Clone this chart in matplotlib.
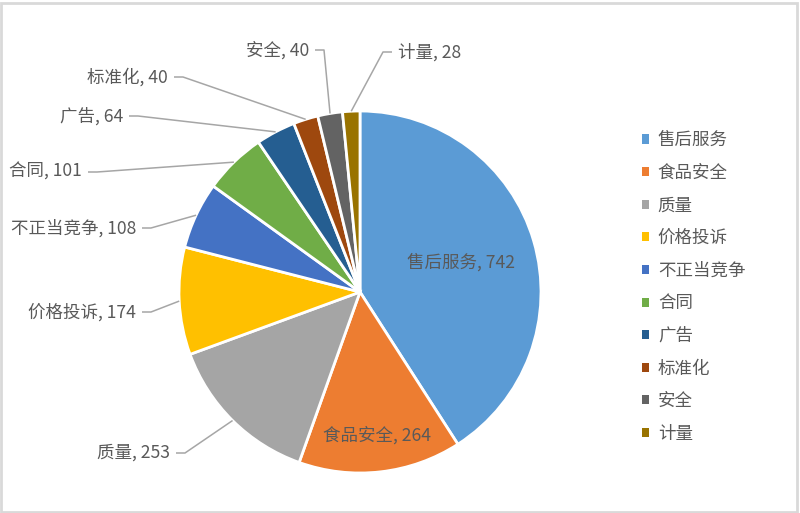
import matplotlib
matplotlib.use('Agg')
import matplotlib.pyplot as plt
import numpy as np
from matplotlib.patches import Rectangle

plt.rcParams['font.family'] = ['Noto Sans CJK SC', 'DejaVu Sans']

# ---------- 数据 ----------
categories = ['售后服务', '食品安全', '质量', '价格投诉', '不正当竞争',
              '合同', '广告', '标准化', '安全', '计量']
counts = [742, 264, 253, 174, 108, 101, 64, 40, 40, 28]
colors = ['#5B9BD5', '#ED7D31', '#A5A5A5', '#FFC000', '#4472C4',
          '#70AD47', '#255E91', '#9E480E', '#636363', '#997300']

# ---------- 布局（像素，y向下） ----------
W, H = 800, 513
CX, CY, R = 360, 292, 181
TEXT_COLOR = '#595959'
LINE_COLOR = '#A6A6A6'
FS = 12.6

# 外部标签位置
label_pos = {
    '质量': (170, 453, 'right'),
    '价格投诉': (136, 312, 'right'),
    '不正当竞争': (136, 228, 'right'),
    '合同': (82, 172, 'right'),
    '广告': (123, 116, 'right'),
    '标准化': (168, 77, 'right'),
    '安全': (309, 50, 'right'),
    '计量': (398, 52, 'left'),
}
# 内部标签距圆心的比例
inner_dist = {'售后服务': 0.58, '食品安全': 0.8}

fig = plt.figure(figsize=(W / 100, H / 100), dpi=100)

ax = fig.add_axes([(CX - R) / W, (H - CY - R) / H, 2 * R / W, 2 * R / H])
wedges, _ = ax.pie(counts, colors=colors, startangle=90, counterclock=False,
                   radius=1, wedgeprops=dict(edgecolor='white', linewidth=2))
ax.set_xlim(-1, 1)
ax.set_ylim(-1, 1)

# 叠加层：像素坐标
ov = fig.add_axes([0, 0, 1, 1])
ov.set_xlim(0, W)
ov.set_ylim(H, 0)
ov.axis('off')

for w, cat, val in zip(wedges, categories, counts):
    t = np.deg2rad((w.theta1 + w.theta2) / 2)
    txt = f'{cat}, {val}'
    if cat in inner_dist:
        d = inner_dist[cat] * R
        ov.text(CX + d * np.cos(t), CY - d * np.sin(t), txt, color=TEXT_COLOR,
                fontsize=FS, ha='center', va='center')
        continue
    x, y, ha = label_pos[cat]
    ov.text(x, y, txt, color=TEXT_COLOR, fontsize=FS, ha=ha, va='center')
    # 引导线
    ax_x, ax_y = CX + R * np.cos(t), CY - R * np.sin(t)
    s = 1 if ha == 'right' else -1
    ov.plot([x + s * 6, x + s * 15, ax_x], [y, y, ax_y],
            color=LINE_COLOR, lw=1.1, solid_capstyle='butt')

# 图例
leg = ax.legend(wedges, categories, loc='center left',
                bbox_to_anchor=(633 / W, 1 - 287 / H), bbox_transform=fig.transFigure,
                frameon=False, fontsize=FS, borderpad=0,
                handlelength=0.42, handleheight=0.42, handletextpad=0.5,
                labelspacing=0.835)
for t in leg.get_texts():
    t.set_color(TEXT_COLOR)
for h in leg.legend_handles:
    h.set_edgecolor('none')

# 外框
fig.patches.append(Rectangle((1 / W, 1 / H), 1 - 4 / W, 1 - 4 / H,
                             transform=fig.transFigure, fill=False,
                             edgecolor='#D9D9D9', lw=2))

fig.savefig('out.png', dpi=100)
